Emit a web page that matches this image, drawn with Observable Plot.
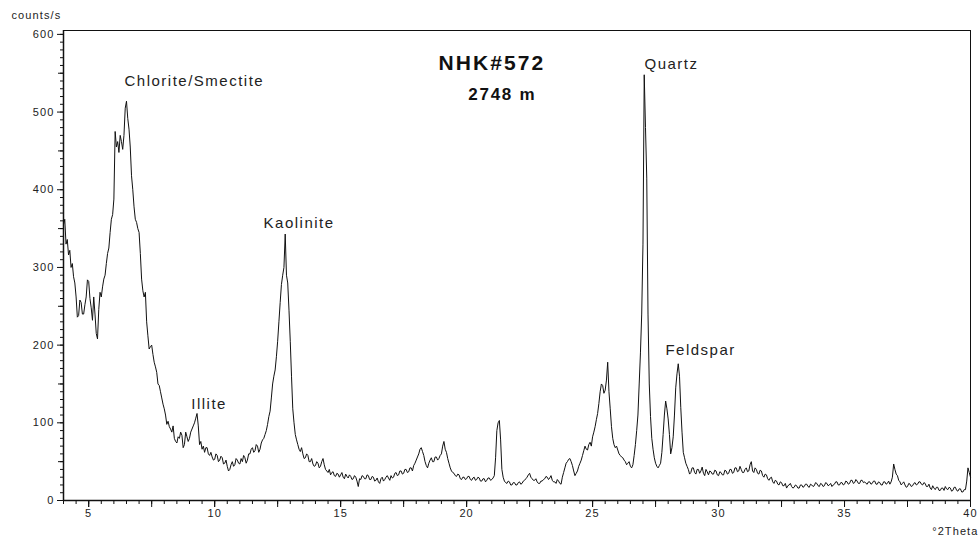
<!DOCTYPE html>
<html>
<head>
<meta charset="utf-8">
<script src="https://cdn.jsdelivr.net/npm/d3@7"></script>
<script src="https://cdn.jsdelivr.net/npm/@observablehq/plot@0.6"></script>
<style>
  html, body { margin: 0; padding: 0; background: #fff; }
  #chart svg text { letter-spacing: 0.1em; }
</style>
</head>
<body>
<div id="chart"></div>
<script>
// XRD scan: start angle and step (°2Theta) of the measured grid
const thetaStart = 4.0;
const thetaStep = 0.05;
// counts/s, one row per degree (x.00 … x.95)
const counts = [
  355,362,330,336,316,322,300,305,288,280,262,236,238,258,255,240,240,252,262,284,
  282,260,248,232,262,240,215,208,246,268,262,275,285,290,305,318,325,345,362,368,
  388,475,455,462,448,470,462,452,470,505,514,492,478,455,418,400,378,362,358,350,
  345,318,285,270,262,268,230,212,195,198,200,188,178,172,165,150,148,140,132,124,
  118,110,98,102,95,92,88,96,80,76,74,82,80,88,84,68,72,88,82,76,
  80,88,92,96,100,106,112,96,72,76,66,70,62,68,68,60,58,62,56,52,
  53,60,58,50,52,57,55,47,48,52,44,38,40,46,50,44,46,54,52,48,
  47,54,50,58,55,48,52,60,60,66,68,62,64,72,70,62,66,74,78,80,
  85,90,98,108,115,132,150,160,168,185,205,230,255,278,290,300,343,290,280,245,
  205,160,118,100,85,78,72,66,63,68,60,54,55,60,58,50,50,54,47,44,
  45,50,48,42,44,50,54,46,40,38,36,40,33,36,37,32,31,35,34,30,
  33,36,30,28,34,31,29,33,31,27,28,32,30,25,18,28,27,32,31,28,
  28,33,32,27,27,31,30,25,26,29,24,22,28,30,25,27,30,32,29,26,
  32,29,30,35,36,32,33,38,38,34,35,40,40,36,37,42,42,38,45,48,
  52,56,60,66,68,63,58,50,45,42,48,52,55,50,50,56,56,52,54,58,
  60,70,76,66,62,54,48,42,38,36,35,32,31,34,33,28,27,30,30,27,
  28,31,31,27,26,29,30,26,27,30,29,25,25,28,28,24,26,29,29,26,
  27,29,32,55,90,100,103,78,40,30,25,23,22,25,24,20,20,23,23,20,
  20,23,24,21,22,25,26,28,30,33,35,30,28,26,26,28,24,22,22,25,
  25,27,28,31,30,27,29,32,26,24,24,22,27,25,22,21,30,36,42,48,
  50,53,54,50,45,38,32,35,38,44,48,52,58,64,70,66,65,72,75,70,
  82,88,95,104,112,125,140,150,148,138,142,155,178,140,118,95,80,72,68,70,
  65,60,58,56,55,52,50,46,48,50,44,42,46,58,72,90,110,150,190,240,
  330,548,480,415,240,150,108,80,66,55,48,44,42,45,48,62,85,110,128,118,
  105,85,60,68,82,110,145,163,176,160,120,88,62,55,48,44,40,34,36,42,
  42,36,34,40,40,35,38,43,35,32,40,37,33,38,37,34,34,39,38,33,
  32,37,36,33,33,39,38,34,35,40,40,35,36,42,42,37,38,44,40,36,
  36,40,42,37,38,46,50,38,36,42,40,35,34,39,38,32,30,34,33,28,
  26,29,30,24,22,26,25,21,20,24,23,19,19,22,16,19,20,22,18,16,
  17,20,19,16,16,20,20,17,18,21,21,18,17,21,20,18,19,23,22,19,
  18,22,21,18,19,23,22,19,20,22,18,20,21,24,24,20,20,23,23,20,
  21,25,24,21,22,26,26,22,23,27,25,22,22,26,26,23,24,22,21,24,
  24,21,22,25,25,21,21,24,23,20,20,24,24,21,22,25,21,24,30,47,
  40,34,32,26,24,20,22,24,20,17,18,22,21,18,19,22,23,20,21,24,
  24,21,20,23,22,18,18,21,16,14,19,16,14,17,17,13,13,16,16,13,
  18,15,14,17,16,12,13,17,17,13,12,15,15,11,11,14,14,25,42,36,
  30
];

// Peak labels
const peakNames = ["Chlorite/Smectite", "Illite", "Kaolinite", "Quartz", "Feldspar"];
const peakTheta = [6.42, 9.07, 11.94, 27.06, 27.89];
const peakCounts = [540, 124, 357, 562, 194];

// Sample title
const titleText = ["NHK#572"];
const titleTheta = [18.88];
const titleCounts = [563];
const depthText = ["2748 m"];
const depthTheta = [20.07];
const depthCounts = [523];

// Axes
const xTickLabels = [5, 10, 15, 20, 25, 30, 35, 40];
const yTickLabels = [0, 100, 200, 300, 400, 500, 600];
const xDomain = [4, 40];
const yDomain = [0, 605];
const xAxisName = "°2Theta";
const yAxisName = "counts/s";

const rows = counts.map((c, i) => ({theta: Math.round((thetaStart + i * thetaStep) * 100) / 100, counts: c}));
const peaks = peakNames.map((n, i) => ({name: n, theta: peakTheta[i], counts: peakCounts[i]}));
const titles = titleText.map((t, i) => ({t, theta: titleTheta[i], counts: titleCounts[i]}));
const depths = depthText.map((t, i) => ({t, theta: depthTheta[i], counts: depthCounts[i]}));

const xMid = d3.range(2.5, 40.001, 2.5).filter(v => v >= 4);
const xMinor = d3.range(4, 40.001, 0.5);
const yMinor = d3.range(0, 600.001, 10);
const yMid = d3.range(50, 600, 100);

const font = "'Liberation Sans', Arial, sans-serif";

const chart = Plot.plot({
  width: 979,
  height: 539,
  marginLeft: 63,
  marginRight: 9,
  marginTop: 30,
  marginBottom: 39,
  style: {fontFamily: font, fontSize: "11px", color: "#111", background: "#fff"},
  x: {domain: xDomain},
  y: {domain: yDomain},
  marks: [
    Plot.frame({stroke: "#111", strokeWidth: 1}),
    Plot.ruleX([xDomain[0]], {stroke: "#111", strokeWidth: 1.5}),
    Plot.ruleY([0], {stroke: "#111", strokeWidth: 1.5}),
    // x ticks
    Plot.axisX({ticks: xMinor, tickSize: 4, tickFormat: () => "", label: null, stroke: "#111"}),
    Plot.axisX({ticks: xMid, tickSize: 7, tickFormat: () => "", label: null, stroke: "#111"}),
    Plot.axisX({ticks: xTickLabels, tickSize: 7, tickPadding: 2, label: null, fontSize: 11, fill: "#222", stroke: "#111"}),
    // y ticks
    Plot.axisY({ticks: yMinor, tickSize: 3, tickFormat: () => "", label: null, stroke: "#111"}),
    Plot.axisY({ticks: yMid, tickSize: 5, tickFormat: () => "", label: null, stroke: "#111"}),
    Plot.axisY({ticks: yTickLabels, tickSize: 6, tickPadding: 3, label: null, fontSize: 11, fill: "#222", stroke: "#111"}),
    // axis names
    Plot.text([yAxisName], {frameAnchor: "top-left", text: d => d, dx: -52, dy: -15, textAnchor: "start", lineAnchor: "middle", fontSize: 11, fill: "#222"}),
    Plot.text([xAxisName], {frameAnchor: "bottom-right", text: d => d, dx: 8, dy: 31, textAnchor: "end", lineAnchor: "middle", fontSize: 11, fill: "#222"}),
    // pattern
    Plot.line(rows, {x: "theta", y: "counts", stroke: "#111", strokeWidth: 1}),
    // labels
    Plot.text(peaks, {x: "theta", y: "counts", text: "name", textAnchor: "start", lineAnchor: "middle", fontSize: 15, fill: "#222"}),
    Plot.text(titles, {x: "theta", y: "counts", text: "t", textAnchor: "start", lineAnchor: "middle", fontSize: 21, fontWeight: "bold", fill: "#111"}),
    Plot.text(depths, {x: "theta", y: "counts", text: "t", textAnchor: "start", lineAnchor: "middle", fontSize: 17, fontWeight: "bold", fill: "#111"})
  ]
});
document.getElementById("chart").appendChild(chart);
</script>
</body>
</html>
